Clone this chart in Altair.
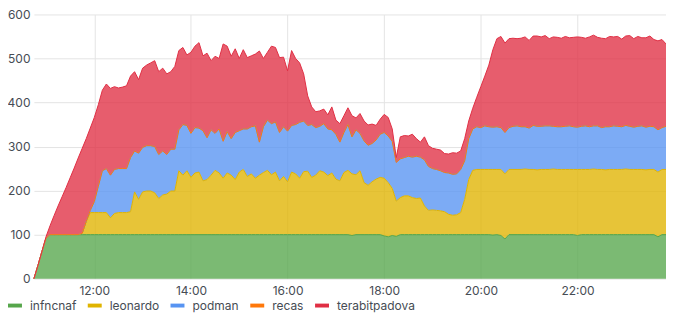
import altair as alt
import pandas as pd

series = ["infncnaf", "leonardo", "podman", "recas", "terabitpadova"]
colors = ["#56A64B", "#E0B400", "#5794F2", "#FF780A", "#E02F44"]
tick_hours = [12, 14, 16, 18, 20, 22]
y_ticks = [0, 100, 200, 300, 400, 500, 600]

# 5-minute samples from 10:45 to 23:50 (158 points)
times = pd.date_range("2024-01-01 10:45", periods=158, freq="5min")

infncnaf = [
    0, 30, 62, 92, 100, 100, 100, 100, 100, 100, 100, 100,
    100, 100, 100, 100, 100, 100, 100, 100, 100, 100, 100, 100,
    100, 100, 100, 100, 100, 100, 100, 100, 100, 100, 100, 100,
    100, 100, 100, 100, 100, 100, 100, 100, 100, 100, 100, 100,
    100, 100, 100, 100, 100, 100, 100, 100, 100, 100, 100, 100,
    100, 100, 100, 100, 100, 100, 100, 100, 100, 100, 100, 100,
    100, 100, 100, 100, 100, 100, 100, 98, 100, 100, 100, 100,
    100, 100, 100, 97, 95, 98, 96, 100, 100, 100, 100, 100,
    100, 100, 100, 100, 100, 100, 100, 100, 100, 100, 100, 100,
    100, 100, 100, 100, 100, 100, 99, 100, 98, 90, 100, 100,
    100, 100, 100, 100, 100, 100, 100, 100, 100, 100, 100, 100,
    100, 100, 100, 98, 100, 100, 100, 100, 100, 100, 100, 100,
    100, 100, 100, 100, 100, 100, 100, 100, 100, 100, 100, 95,
    100, 100,
]

leonardo = [
    0, 0, 0, 0, 0, 0, 0, 0, 0, 0, 0, 0,
    3, 30, 50, 50, 50, 50, 50, 38, 48, 50, 50, 50,
    52, 97, 80, 97, 99, 99, 95, 82, 90, 92, 99, 99,
    145, 135, 145, 130, 140, 142, 122, 125, 135, 146, 140, 128,
    140, 135, 125, 142, 148, 132, 138, 128, 135, 141, 146, 136,
    142, 122, 132, 120, 142, 138, 128, 143, 144, 130, 135, 145,
    142, 134, 140, 126, 122, 141, 146, 140, 136, 145, 118, 112,
    120, 126, 130, 131, 123, 107, 80, 84, 88, 88, 84, 82,
    83, 65, 55, 56, 55, 54, 52, 46, 44, 45, 50, 80,
    125, 146, 148, 148, 148, 148, 149, 148, 150, 148, 148, 148,
    148, 148, 149, 148, 148, 147, 148, 148, 148, 149, 148, 148,
    148, 148, 148, 150, 148, 148, 148, 149, 148, 148, 147, 148,
    148, 148, 148, 149, 148, 148, 148, 148, 147, 148, 148, 147,
    148, 148,
]

podman = [
    0, 0, 0, 0, 0, 0, 0, 0, 0, 0, 0, 0,
    0, 0, 5, 25, 60, 95, 100, 97, 100, 100, 100, 100,
    123, 93, 105, 101, 103, 103, 105, 100, 100, 90, 95, 95,
    93, 115, 103, 100, 103, 100, 114, 95, 103, 84, 100, 84,
    94, 83, 107, 94, 92, 108, 107, 119, 75, 104, 114, 116,
    114, 110, 113, 115, 106, 112, 127, 115, 104, 120, 108, 101,
    110, 106, 98, 102, 88, 91, 104, 84, 102, 85, 95, 91,
    87, 89, 98, 104, 106, 107, 88, 88, 87, 90, 92, 96,
    93, 105, 100, 94, 93, 91, 89, 94, 93, 93, 98, 88,
    93, 94, 97, 95, 99, 97, 96, 97, 95, 94, 95, 98,
    99, 97, 96, 94, 100, 99, 98, 99, 99, 97, 97, 97,
    98, 99, 97, 96, 98, 99, 97, 98, 99, 95, 98, 97,
    99, 98, 97, 99, 98, 96, 98, 99, 97, 98, 97, 96,
    95, 98,
]

recas = [0] * 158

terabitpadova = [
    0, 0, 0, 3, 20, 43, 65, 86, 107, 129, 151, 174,
    193, 188, 187, 191, 185, 183, 192, 197, 188, 183, 185, 188,
    185, 180, 167, 180, 183, 188, 195, 188, 188, 183, 176, 188,
    180, 175, 160, 184, 185, 194, 170, 192, 157, 175, 160, 221,
    194, 187, 190, 164, 180, 162, 161, 163, 207, 155, 154, 176,
    169, 170, 158, 137, 170, 150, 135, 107, 67, 40, 36, 35,
    33, 32, 52, 32, 42, 38, 38, 48, 27, 45, 45, 46,
    44, 33, 34, 41, 42, 28, 11, 50, 50, 46, 52, 40,
    34, 52, 47, 46, 46, 47, 43, 43, 49, 47, 42, 50,
    40, 47, 67, 93, 113, 140, 176, 200, 207, 203, 202, 200,
    198, 201, 204, 199, 203, 205, 203, 205, 198, 203, 203, 201,
    204, 200, 203, 205, 202, 199, 204, 206, 201, 203, 200, 205,
    202, 204, 199, 203, 206, 201, 204, 200, 203, 205, 198, 202,
    200, 187,
]

values = [infncnaf, leonardo, podman, recas, terabitpadova]
rows = []
for k, (name, vals) in enumerate(zip(series, values)):
    for t, v in zip(times, vals):
        rows.append({"time": t.strftime("%Y-%m-%dT%H:%M:%S"), "value": v,
                     "series": name, "k": k})
df = pd.DataFrame(rows)

def dt(h, m=0):
    return alt.DateTime(year=2024, month=1, date=1, hours=h, minutes=m)

label_color = "#464c54"
grid_color = "#e4e4e4"

chart = alt.Chart(df).mark_area(
    line={"strokeWidth": 1},
    fillOpacity=0.78,
    interpolate="linear",
).encode(
    x=alt.X("time:T",
            scale=alt.Scale(domain=[dt(10, 45), dt(23, 50)], nice=False),
            axis=alt.Axis(title=None, format="%H:%M",
                          values=[dt(h) for h in tick_hours],
                          ticks=False, tickSize=0, domain=False,
                          labelPadding=7, labelFont="Inter", labelFontSize=12,
                          labelColor=label_color, gridColor=grid_color,
                          labelFlush=False)),
    y=alt.Y("value:Q", stack="zero",
            scale=alt.Scale(domain=[0, 600], nice=False),
            axis=alt.Axis(title=None, values=y_ticks, ticks=False, tickSize=0,
                          domain=False, labelPadding=4, labelFont="Inter",
                          labelFontSize=12, labelColor=label_color,
                          gridColor=grid_color)),
    color=alt.Color("series:N",
                    scale=alt.Scale(domain=series, range=colors),
                    legend=alt.Legend(title=None, orient="none", direction="horizontal",
                                      legendX=-26, legendY=285,
                                      symbolType="M-1,-0.28L1,-0.28L1,0.28L-1,0.28Z",
                                      symbolSize=196, symbolStrokeWidth=0,
                                      symbolOpacity=1, labelFont="Inter",
                                      labelFontSize=12, labelColor=label_color,
                                      labelOffset=8, columnPadding=11, padding=0)),
    order=alt.Order("k:Q", sort="ascending"),
).properties(
    width=634,
    height=265,
    autosize=alt.AutoSizeParams(type="none"),
    padding={"left": 26, "top": 6, "right": 0, "bottom": 34},
).configure_view(stroke=None)

chart.save("out.html", embed_options={"renderer": "svg", "actions": False})
